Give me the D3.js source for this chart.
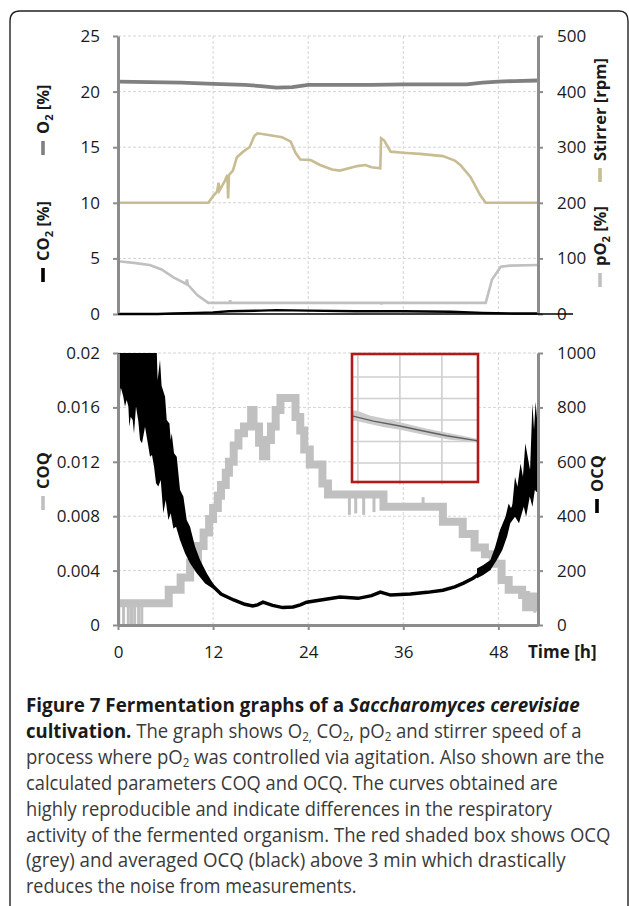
<!DOCTYPE html>
<html>
<head>
<meta charset="utf-8">
<script src="https://cdn.jsdelivr.net/npm/d3@7"></script>
<style>
  html, body { margin: 0; padding: 0; background: #fff; }
  svg { display: block; }
</style>
</head>
<body>
<svg id="chart" width="629" height="906"></svg>
<script>
// ---- data (time in h) ----
const timeTicks = [0, 12, 24, 36, 48];
const topLeftTicks = [0, 5, 10, 15, 20, 25];
const topRightTicks = [0, 100, 200, 300, 400, 500];
const botLeftTicks = [0, 0.004, 0.008, 0.012, 0.016, 0.02];
const botRightTicks = [0, 200, 400, 600, 800, 1000];

// O2 [%] (left axis)
const o2 = [[0,20.9],[4,20.85],[8,20.8],[12,20.7],[16,20.6],[18,20.5],[20,20.35],[22,20.4],
  [24,20.6],[28,20.6],[32,20.6],[36,20.65],[40,20.65],[44,20.65],[46,20.8],[48,20.9],[50,20.95],[53,21.0]];

// CO2 [%] (left axis)
const co2 = [[0,0],[5,0],[7,0.05],[10,0.1],[12,0.15],[14,0.25],[18,0.3],[20,0.35],[24,0.3],
  [30,0.25],[36,0.25],[42,0.2],[46,0.1],[50,0.05],[53,0.05]];

// Stirrer [rpm] (right axis)
const stirrer = [[0,200],[11.4,200],[12,212],[12.5,220],[12.7,236],[12.8,222],[13.5,240],[13.8,250],
  [13.9,208],[14.0,250],[14.5,258],[15,282],[15.8,292],[16.6,300],[17.2,320],[17.6,325],[19,322],
  [20.7,318],[21.8,310],[22.4,290],[23,278],[24.3,277],[25.5,268],[27,260],[28,258],[30.2,266],
  [31.2,268],[32,264],[33.1,262],[33.2,316],[33.6,312],[34.4,292],[36,290],[38.1,288],[41,284],
  [42.5,276],[43.2,268],[44.5,246],[45.7,214],[46.4,200],[53,200]];

// pO2 [%] (right axis)
const po2 = [[0,95],[2,92],[4,88],[5.5,80],[7,66],[8.6,54],[8.7,62],[8.8,53],[10,34],[11.4,20],
  [14.1,20],[14.15,25],[14.2,20],[33.2,20],[33.25,17],[33.3,20],[46.4,20],[47.2,62],[48.3,85],
  [49.5,87],[53,88]];

// COQ (left axis, bottom panel)
const coq = [[0,0.0016],[6.4,0.0026],[7.9,0.0035],[9.1,0.0046],[10.1,0.0058],[10.8,0.0068],
  [11.5,0.0078],[12,0.0086],[12.6,0.0095],[13,0.0103],[13.6,0.0112],[14,0.012],[14.6,0.0132],
  [15.2,0.0141],[15.9,0.0146],[16.8,0.0158],[17.1,0.0146],[17.8,0.0134],[18.3,0.0124],
  [18.7,0.0136],[19.3,0.0146],[19.9,0.0158],[20.5,0.0167],[22.4,0.0153],[23,0.0143],
  [23.5,0.0129],[24.2,0.0118],[25.8,0.0104],[26.5,0.0096],[33.5,0.0087],[41,0.0076],
  [43.5,0.0067],[45,0.0057],[46.3,0.0052],[47.3,0.0045],[48.4,0.0033],[49.3,0.0026],
  [51,0.0022],[51.5,0.0013],[52.5,0.0021],[53,0.0021]];
// short COQ excursions [time, value reached]
const coqSpikes = [[0.1,0],[0.7,0],[1.3,0],[1.7,0],[2.1,0],[2.6,0],[3.0,0],[24.3,0.013],
  [29.2,0.0081],[30,0.0082],[31,0.0081],[32.3,0.0083],[38.5,0.0094],[52.6,0.0009]];

// OCQ (right axis, bottom panel)
const ocq = [[0,880],[2,860],[4,800],[5,720],[6,600],[7,480],[7.8,400],[8.7,300],[9.5,245],
  [10.4,205],[11.2,170],[12,142],[13,114],[14.6,92],[16,76],[17,70],[17.6,74],[18.3,84],
  [19.5,72],[20.8,64],[22.1,66],[23,74],[23.8,84],[26,94],[28,103],[30.3,98],[32,108],
  [33.1,121],[34.4,110],[36.9,114],[39,120],[41,128],[42.5,140],[43.6,154],[44.8,172],
  [45.7,191],[47,222],[47.8,265],[48.6,340],[49.5,410],[50.5,470],[51.2,520],[52,560],[52.9,600]];
// noise envelope of OCQ at start and end
const ocqStartHi = [[0,1000],[4.9,1000],[5.0,900],[5.3,975],[5.5,880],[5.94,839],[6.15,754],
  [6.49,741],[6.65,680],[6.78,705],[7.07,631],[7.41,619],[7.83,496],[8.25,472],[8.67,386],
  [9.09,361],[9.73,288],[10.36,239],[11.2,190],[12.25,141]];
const ocqStartLo = [[0,705],[0.34,876],[0.67,839],[0.88,803],[1.1,827],[1.31,803],[1.43,729],
  [1.6,766],[1.85,754],[2.02,705],[2.27,803],[2.57,748],[2.78,680],[3.03,668],[3.41,729],
  [3.83,656],[4.04,619],[4.29,625],[4.55,582],[4.8,521],[5.09,509],[5.39,533],[5.72,411],
  [6.02,460],[6.36,386],[6.65,411],[6.99,355],[7.33,361],[7.83,312],[8.46,264],[9.09,227],
  [9.94,190],[11,153],[12.25,129]];
const ocqEndHi = [[45.3,208],[46.1,221],[47,239],[47.6,288],[48.2,349],[48.9,398],[49.3,447],
  [49.7,423],[50.1,545],[50.4,508],[50.8,594],[51.1,545],[51.4,668],[51.7,619],[52,570],
  [52.3,815],[52.5,717],[52.7,821],[53,717]];
const ocqEndLo = [[45.3,172],[46.1,184],[47,202],[47.8,239],[48.5,276],[49.1,325],[49.5,374],
  [50.1,398],[50.6,374],[51.2,435],[51.5,398],[51.96,472],[52.3,435],[52.6,496],[53,484]];

// inset: raw OCQ (grey band) and averaged OCQ (black line)
const insetGridX = [1, 2, 3];
const insetGridY = [1, 2, 3, 4, 5];
const insetAvg = [[0.86,3.19],[1.37,2.95],[2.0,2.72],[2.56,2.49],[3.11,2.27],[3.86,2.03]];
const insetRawHi = [[0.86,3.45],[1.0,3.42],[1.3,3.2],[1.6,3.08],[2.0,2.9],[2.3,2.76],[2.6,2.62],
  [3.0,2.45],[3.4,2.3],[3.86,2.12]];
const insetRawLo = [[0.86,3.0],[1.2,2.85],[1.6,2.68],[2.0,2.55],[2.4,2.38],[2.8,2.22],[3.2,2.08],[3.86,1.95]];

// caption runs: b = bold, bi = bold italic, r = regular, s = subscript
const captionLines = [
  [['Figure 7 Fermentation graphs of a ', 'b'], ['Saccharomyces cerevisiae', 'bi']],
  [['cultivation.', 'b'], [' The graph shows O', 'r'], ['2,', 's'], [' CO', 'r'], ['2', 's'], [', pO', 'r'], ['2', 's'], [' and stirrer speed of a', 'r']],
  [['process where pO', 'r'], ['2', 's'], [' was controlled via agitation. Also shown are the', 'r']],
  [['calculated parameters COQ and OCQ. The curves obtained are', 'r']],
  [['highly reproducible and indicate differences in the respiratory', 'r']],
  [['activity of the fermented organism. The red shaded box shows OCQ', 'r']],
  [['(grey) and averaged OCQ (black) above 3 min which drastically', 'r']],
  [['reduces the noise from measurements.', 'r']]
];
const captionLineEnds = [580, 582, 605, 558, 552, 611, 566, 357];

// ---- drawing ----
const svg = d3.select('#chart');
const FONT = '"Open Sans", "Noto Sans", sans-serif';
const AXIS_GREY = '#8c8c8c';
const GRID = '#d4d4d4';

// figure frame (rounded, right side cut off by the image)
svg.append('path')
  .attr('d', 'M10,906 V21 Q10,11 20,11 H619 Q628,11 628,21 V906')
  .attr('fill', 'none').attr('stroke', '#222').attr('stroke-width', 1.4);

const x = d3.scaleLinear().domain([0, 53]).range([118, 538]);

const yTopL = d3.scaleLinear().domain([0, 25]).range([314, 36]);
const yTopR = d3.scaleLinear().domain([0, 500]).range([314, 36]);
const yBotL = d3.scaleLinear().domain([0, 0.02]).range([625, 353]);
const yBotR = d3.scaleLinear().domain([0, 1000]).range([625, 353]);

function grid(yScale, ticks) {
  const g = svg.append('g');
  const [y0, y1] = yScale.range();
  g.selectAll('.gh').data(ticks.slice(1)).join('line')
    .attr('x1', x(0)).attr('x2', x(53))
    .attr('y1', d => yScale(d)).attr('y2', d => yScale(d))
    .attr('stroke', GRID).attr('stroke-width', 1).attr('stroke-dasharray', '3,2');
  g.selectAll('.gv').data(timeTicks.slice(1)).join('line')
    .attr('x1', d => x(d)).attr('x2', d => x(d))
    .attr('y1', y0).attr('y2', y1)
    .attr('stroke', GRID).attr('stroke-width', 1).attr('stroke-dasharray', '3,2');
}
grid(yTopL, topLeftTicks);
grid(yBotL, botLeftTicks);

function styleAxis(g) {
  g.select('.domain').attr('stroke', AXIS_GREY).attr('stroke-width', 3);
  g.selectAll('.tick line').attr('stroke', AXIS_GREY).attr('stroke-width', 2);
  g.selectAll('.tick text').attr('fill', '#1a1a1a')
    .style('font-family', FONT).style('font-size', '17px');
}

const line = (xs, ys) => d3.line().x(d => xs(d[0])).y(d => ys(d[1]));

// clip regions
const defs = svg.append('defs');
defs.append('clipPath').attr('id', 'clipTop').append('rect')
  .attr('x', 118).attr('y', 30).attr('width', 420).attr('height', 290);
defs.append('clipPath').attr('id', 'clipBot').append('rect')
  .attr('x', 118).attr('y', 353).attr('width', 420).attr('height', 272);

// ---- top panel series ----
const topPanel = svg.append('g').attr('clip-path', 'url(#clipTop)');
topPanel.append('path').datum(o2).attr('d', line(x, yTopL))
  .attr('fill', 'none').attr('stroke', '#808080').attr('stroke-width', 3.8);
topPanel.append('path').datum(stirrer).attr('d', line(x, yTopR))
  .attr('fill', 'none').attr('stroke', '#c8bc92').attr('stroke-width', 2.6);
topPanel.append('path').datum(po2).attr('d', line(x, yTopR))
  .attr('fill', 'none').attr('stroke', '#c0c0c0').attr('stroke-width', 2.6);
topPanel.append('path').datum(co2).attr('d', line(x, yTopL))
  .attr('fill', 'none').attr('stroke', '#000').attr('stroke-width', 2.4);

// top axes
svg.append('g').attr('transform', 'translate(118,0)')
  .call(d3.axisLeft(yTopL).tickValues(topLeftTicks).tickSize(5).tickSizeOuter(0).tickPadding(13))
  .call(styleAxis);
svg.append('g').attr('transform', 'translate(538,0)')
  .call(d3.axisRight(yTopR).tickValues(topRightTicks).tickSize(5).tickSizeOuter(0).tickPadding(14))
  .call(styleAxis);
// horizontal base line of the upper panel
svg.append('line').attr('x1', x(0)).attr('x2', x(53) + 35)
  .attr('y1', yTopL(0)).attr('y2', yTopL(0))
  .attr('stroke', '#000').attr('stroke-width', 1.6);

// ---- bottom panel series ----
const botPanel = svg.append('g').attr('clip-path', 'url(#clipBot)');
botPanel.selectAll('.coqSpike').data(coqSpikes).join('line')
  .attr('x1', d => x(d[0])).attr('x2', d => x(d[0]))
  .attr('y1', d => {
    const i = d3.bisector(c => c[0]).right(coq, d[0]) - 1;
    return yBotL(coq[Math.max(0, i)][1]);
  })
  .attr('y2', d => yBotL(d[1]))
  .attr('stroke', '#c0c0c0').attr('stroke-width', 3);
botPanel.append('path').datum(coq).attr('d', line(x, yBotL).curve(d3.curveStepAfter))
  .attr('fill', 'none').attr('stroke', '#c0c0c0').attr('stroke-width', 8);

function band(hi, lo) {
  const pts = hi.concat(lo.slice().reverse());
  return line(x, yBotR)(pts) + 'Z';
}
botPanel.append('path').attr('d', band(ocqStartHi, ocqStartLo)).attr('fill', '#000');
botPanel.append('path').attr('d', band(ocqEndHi, ocqEndLo)).attr('fill', '#000');
botPanel.append('path').datum(ocq).attr('d', line(x, yBotR))
  .attr('fill', 'none').attr('stroke', '#000').attr('stroke-width', 3.5);

// bottom axes
svg.append('g').attr('transform', 'translate(118,0)')
  .call(d3.axisLeft(yBotL).tickValues(botLeftTicks).tickSize(5).tickSizeOuter(0).tickPadding(13)
    .tickFormat(d => d === 0 ? '0' : String(parseFloat(d.toFixed(3)))))
  .call(styleAxis);
svg.append('g').attr('transform', 'translate(538,0)')
  .call(d3.axisRight(yBotR).tickValues(botRightTicks).tickSize(5).tickSizeOuter(0).tickPadding(14)
    .tickFormat(d3.format('d')))
  .call(styleAxis);
svg.append('g').attr('transform', 'translate(0,625)')
  .call(d3.axisBottom(x).tickValues(timeTicks).tickSize(5).tickSizeOuter(0).tickPadding(16))
  .call(styleAxis);

svg.append('text').attr('x', 528).attr('y', 658)
  .style('font-family', FONT).style('font-size', '17px').style('font-weight', 700)
  .attr('fill', '#1a1a1a').text('Time [h]');

// ---- inset ----
const ix = d3.scaleLinear().domain([0.86, 3.86]).range([352, 478]);
const iy = d3.scaleLinear().domain([0, 6]).range([484.5, 355.5]);
const inset = svg.append('g');
inset.append('rect').attr('x', ix(0.86)).attr('y', iy(6) - 1.5)
  .attr('width', ix(3.86) - ix(0.86)).attr('height', iy(0) - iy(6) - 1)
  .attr('fill', '#fff');
inset.selectAll('.igx').data(insetGridX).join('line')
  .attr('x1', d => ix(d)).attr('x2', d => ix(d)).attr('y1', iy(6)).attr('y2', iy(0))
  .attr('stroke', '#cfcfcf').attr('stroke-width', 1.6);
inset.selectAll('.igy').data(insetGridY).join('line')
  .attr('x1', ix(0.86)).attr('x2', ix(3.86)).attr('y1', d => iy(d)).attr('y2', d => iy(d))
  .attr('stroke', '#cfcfcf').attr('stroke-width', 1.6);
inset.append('path')
  .attr('d', line(ix, iy)(insetRawHi.concat(insetRawLo.slice().reverse())) + 'Z')
  .attr('fill', '#cbcbcb');
inset.append('path').datum(insetAvg).attr('d', line(ix, iy))
  .attr('fill', 'none').attr('stroke', '#606060').attr('stroke-width', 1.4);
inset.append('rect').attr('x', ix(0.86)).attr('y', iy(6) - 1.5)
  .attr('width', ix(3.86) - ix(0.86)).attr('height', iy(0) - iy(6) - 1)
  .attr('fill', 'none').attr('stroke', '#b01a1a').attr('stroke-width', 2.6);

// rich text: runs of [text, kind]; subscripts shift down and the next run shifts back
function richText(t, runs, subSize, shift) {
  let pending = 0;
  runs.forEach(([s, k]) => {
    const sp = t.append('tspan').text(s);
    if (k === 's') {
      sp.attr('dy', shift).style('font-size', subSize);
      pending = -shift;
      return;
    }
    if (pending) { sp.attr('dy', pending); pending = 0; }
    if (k === 'b' || k === 'bi') sp.style('font-weight', 700).attr('fill', '#1a1a1a');
    if (k === 'bi') sp.style('font-style', 'italic');
  });
}

// ---- axis titles (rotated, with coloured series marker) ----
function axisTitle(cx, yBottom, markColor, runs) {
  const g = svg.append('g').attr('transform', `translate(${cx},${yBottom}) rotate(-90)`);
  g.append('rect').attr('x', 0).attr('y', -1.8).attr('width', 14).attr('height', 3.6)
    .attr('fill', markColor);
  const t = g.append('text').attr('x', 21).attr('y', 6)
    .style('font-family', FONT).style('font-size', '16.5px').style('font-weight', 700)
    .attr('fill', '#1a1a1a');
  richText(t, runs, '11px', 4);
}
axisTitle(43, 155, '#808080', [['O', 'r'], ['2', 's'], [' [%]', 'r']]);
axisTitle(43, 282, '#000', [['CO', 'r'], ['2', 's'], [' [%]', 'r']]);
axisTitle(600, 182, '#c8bc92', [['Stirrer [rpm]', 'r']]);
axisTitle(600, 287, '#c0c0c0', [['pO', 'r'], ['2', 's'], [' [%]', 'r']]);
axisTitle(43, 510, '#c0c0c0', [['COQ', 'r']]);
axisTitle(597, 513, '#000', [['OCQ', 'r']]);

// ---- caption: natural layout, then squeezed horizontally to the measured line width ----
captionLines.forEach((runs, i) => {
  const g = svg.append('g');
  const t = g.append('text').attr('x', 0).attr('y', 0)
    .style('font-family', FONT).style('font-size', '20px')
    .attr('fill', '#3a3a3a');
  richText(t, runs, '12.5px', 3);
  const w = t.node().getComputedTextLength();
  const sx = (captionLineEnds[i] - 26) / w;
  g.attr('transform', `translate(26,${712 + i * 25.9}) scale(${sx},1)`);
});
</script>
</body>
</html>
